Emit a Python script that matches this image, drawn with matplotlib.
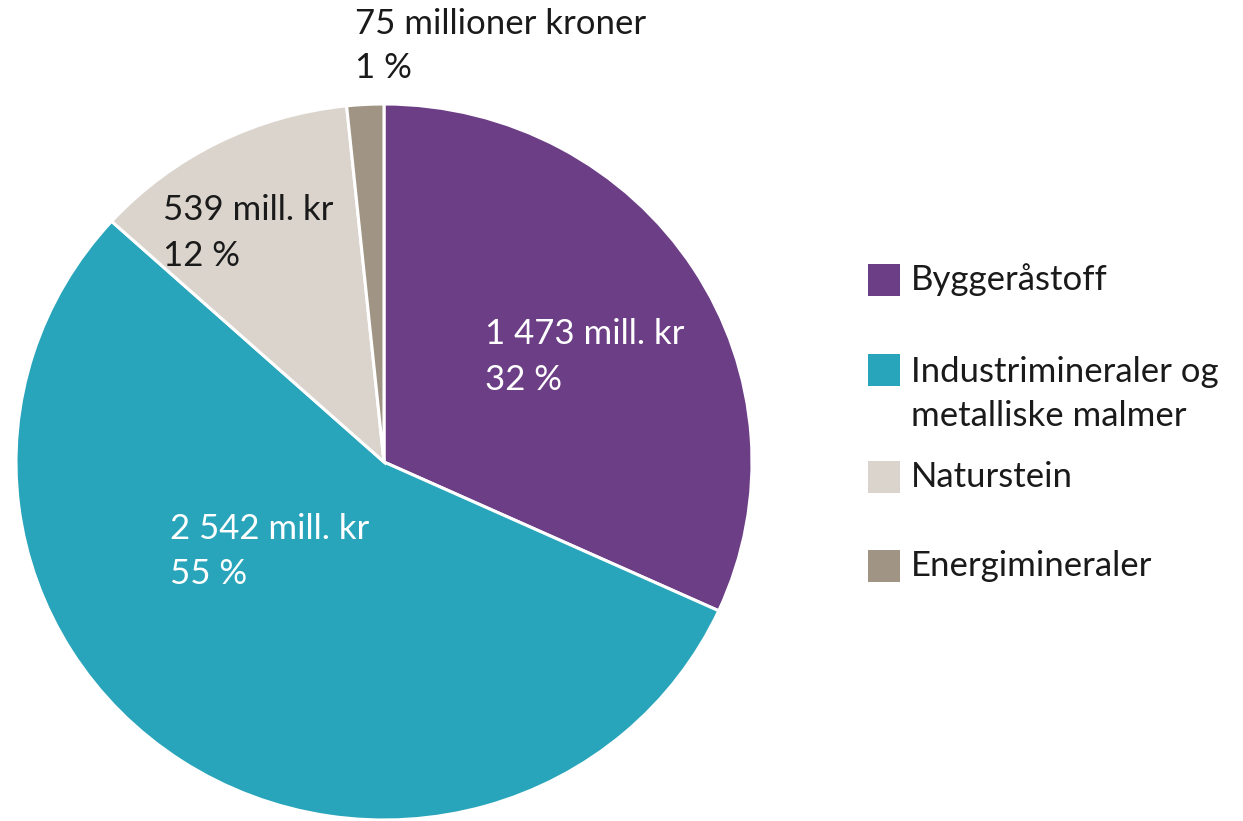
import matplotlib
matplotlib.use("Agg")
import matplotlib.pyplot as plt
from matplotlib.patches import Rectangle

# data
categories = ["Byggeråstoff", "Industrimineraler og\nmetalliske malmer", "Naturstein", "Energimineraler"]
values = [1473, 2542, 539, 75]
value_labels = ["1 473 mill. kr\n32 %", "2 542 mill. kr\n55 %", "539 mill. kr\n12 %", "75 millioner kroner\n1 %"]
colors = ["#6C3E86", "#29A5BB", "#DAD4CD", "#A09585"]
label_colors = ["white", "white", "#1a1a1a", "#1a1a1a"]

plt.rcParams["font.family"] = ["Lato", "DejaVu Sans"]

W, H = 1243, 821
fig = plt.figure(figsize=(W / 100, H / 100), dpi=100)

# pie axes: centre (384, 462) px, slightly wider than tall as in the original
cx, cy, rx, ry = 384, 462, 368, 358
ax = fig.add_axes([(cx - rx) / W, (H - cy - ry) / H, 2 * rx / W, 2 * ry / H])
ax.pie(values, colors=colors, startangle=90, counterclock=False, radius=1,
       wedgeprops=dict(edgecolor="white", linewidth=2.2))
ax.set_xlim(-1, 1)
ax.set_ylim(-1, 1)
ax.set_aspect("auto")
ax.axis("off")

FS = 25
# label positions (left edge, block centre) in px
label_pos = [(485, 357), (170, 551), (163, 233), (355, 46)]
for txt, (px, py), c in zip(value_labels, label_pos, label_colors):
    fig.text(px / W, 1 - py / H, txt, ha="left", va="center", fontsize=FS,
             color=c, linespacing=1.5)

# legend
leg_y = [280, 370, 477, 566]
for lab, col, y in zip(categories, colors, leg_y):
    fig.patches.append(Rectangle((868 / W, 1 - (y + 16) / H), 32 / W, 32 / H,
                                 transform=fig.transFigure, facecolor=col,
                                 edgecolor="none"))
    if "\n" in lab:
        fig.text(911 / W, 1 - (y + 24) / H, lab, ha="left", va="center", fontsize=FS,
                 color="#1a1a1a", linespacing=1.45)
    else:
        fig.text(911 / W, 1 - y / H, lab, ha="left", va="center", fontsize=FS,
                 color="#1a1a1a")

fig.savefig("out.png", dpi=100)
